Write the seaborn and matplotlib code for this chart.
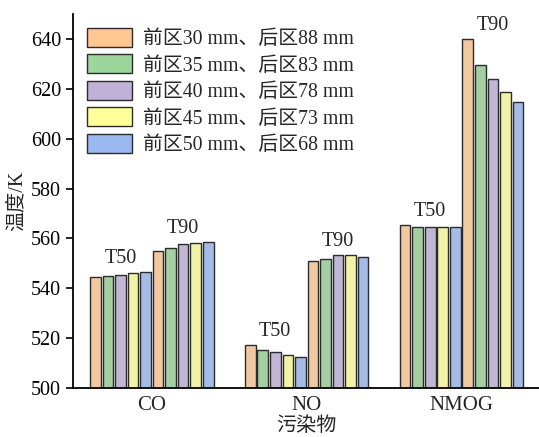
import pandas as pd
import numpy as np
import seaborn as sns
import matplotlib.pyplot as plt

# Data
pollutants = ['CO', 'NO', 'NMOG']
settings = ['前区30 mm、后区88 mm', '前区35 mm、后区83 mm', '前区40 mm、后区78 mm',
            '前区45 mm、后区73 mm', '前区50 mm、后区68 mm']
metrics = ['T50', 'T90']
colors = ['#FFC892', '#9CD69A', '#C0B1D8', '#FFFF99', '#99B9F0']

t50_co = [544.5, 544.8, 545.2, 546.3, 546.6]
t90_co = [554.9, 556.3, 557.6, 558.3, 558.5]
t50_no = [517.2, 515.2, 514.3, 513.1, 512.4]
t90_no = [550.8, 551.9, 553.3, 553.2, 552.7]
t50_nmog = [565.3, 564.7, 564.5, 564.4, 564.5]
t90_nmog = [640.1, 629.5, 624.0, 618.8, 614.8]

values = {
    ('CO', 'T50'): t50_co, ('CO', 'T90'): t90_co,
    ('NO', 'T50'): t50_no, ('NO', 'T90'): t90_no,
    ('NMOG', 'T50'): t50_nmog, ('NMOG', 'T90'): t90_nmog,
}

rows = []
for p in pollutants:
    for m in metrics:
        for s, v in zip(settings, values[(p, m)]):
            rows.append({'pollutant': p, 'series': f'{m}|{s}', 'temp': v})
df = pd.DataFrame(rows)
hue_order = [f'{m}|{s}' for m in metrics for s in settings]

sns.set_style('ticks')
plt.rcParams['font.family'] = ['Liberation Serif', 'Noto Sans CJK SC']
plt.rcParams['axes.unicode_minus'] = False

fig, ax = plt.subplots(figsize=(5.39, 4.37), dpi=100)
fig.subplots_adjust(left=0.135, right=1.0, top=0.968, bottom=0.112)

sns.barplot(data=df, x='pollutant', y='temp', hue='series', order=pollutants,
            hue_order=hue_order, palette=colors * 2, width=0.81, gap=0.15,
            edgecolor='#2b2b2b', linewidth=1.0, ax=ax, legend=False)

# T50 / T90 labels above each group of five bars
for pi, p in enumerate(pollutants):
    for mi, m in enumerate(metrics):
        bars = [ax.containers[mi * 5 + k][pi] for k in range(5)]
        xc = np.mean([b.get_x() + b.get_width() / 2 for b in bars])
        ytop = max(b.get_height() for b in bars)
        ax.annotate(m, (xc, ytop), xytext=(0, 3), textcoords='offset points',
                    ha='center', va='bottom', fontsize=14.5)

ax.set_ylim(500, 650)
ax.set_xlim(-0.51, 2.5)
ax.set_yticks(np.arange(500, 641, 20))
ax.tick_params(axis='y', direction='out', length=5, width=1.2, labelsize=14.5, colors='black')
ax.tick_params(axis='x', length=0, labelsize=15, pad=6)
ax.set_xlabel('污染物', fontsize=14.5, labelpad=1)
ax.set_ylabel('温度/K', fontsize=14.5, labelpad=3)
sns.despine(ax=ax)
for sp in ['left', 'bottom']:
    ax.spines[sp].set_linewidth(1.3)
    ax.spines[sp].set_color('black')

handles = [plt.Rectangle((0, 0), 1, 1, facecolor=c, edgecolor='#2b2b2b', linewidth=1.0)
           for c in colors]
ax.legend(handles, settings, loc='upper left', bbox_to_anchor=(0.0, 1.0), frameon=False,
          fontsize=14.3, handlelength=2.3, handleheight=1.1, labelspacing=0.26,
          handletextpad=0.55, borderaxespad=0.3)

fig.savefig('out.png', dpi=100)
